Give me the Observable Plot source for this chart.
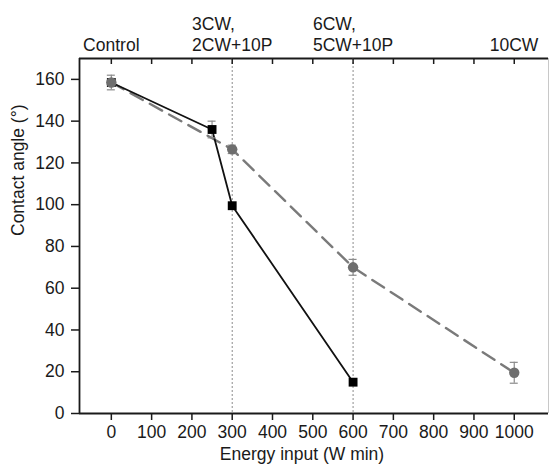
<!DOCTYPE html>
<html><head><meta charset="utf-8">
<script src="https://cdn.jsdelivr.net/npm/d3@7"></script>
<script src="https://cdn.jsdelivr.net/npm/@observablehq/plot@0.6"></script>
<style>html,body{margin:0;padding:0;background:#fff} svg{display:block}</style>
</head><body><div id="chart"></div>
<script>
// ---- data ----
const xTicks = [0, 100, 200, 300, 400, 500, 600, 700, 800, 900, 1000];
const yTicks = [0, 20, 40, 60, 80, 100, 120, 140, 160];
const topTickX = [0, 300, 600, 1000];
const topTickLabels = ["Control", "3CW,\n2CW+10P", "6CW,\n5CW+10P", "10CW"];
const refLinesX = [300, 600];

const s1Energy = [0, 250, 300, 600];
const s1Angle  = [158.5, 136, 99.5, 15];
const s1Err    = [0, 4, 0, 0];

const s2Energy = [0, 300, 600, 1000];
const s2Angle  = [158.5, 126.5, 70, 19.5];
const s2Err    = [3.5, 2, 3.8, 5];

const xDomain = [-79, 1085];
const yDomain = [0, 170];

const xLabel = "Energy input (W min)";
const yLabel = "Contact angle (°)";

// ---- build ----
const s1 = s1Energy.map((x, i) => ({x, y: s1Angle[i], e: s1Err[i]}));
const s2 = s2Energy.map((x, i) => ({x, y: s2Angle[i], e: s2Err[i]}));
const errs = [...s1, ...s2].filter(d => d.e > 0);
const topRows = topTickX.map((x, i) => ({x, label: topTickLabels[i]}));

const ink = "#1a1a1a";
const errColor = "#8a8a8a";
const FS = 17.5;

const chart = Plot.plot({
  width: 549,
  height: 464,
  marginLeft: 79,
  marginRight: 1,
  marginTop: 58,
  marginBottom: 51,
  x: {domain: xDomain},
  y: {domain: yDomain},
  style: {fontFamily: "'Liberation Sans', Arial, sans-serif", fontSize: FS + "px", color: ink, background: "#fff"},
  marks: [
    // frame
    Plot.ruleX([xDomain[1]], {stroke: "#c8c8c8", strokeWidth: 1}),
    Plot.ruleX([xDomain[0]], {stroke: ink, strokeWidth: 1.8}),
    Plot.ruleY([yDomain[0]], {stroke: ink, strokeWidth: 1.8}),
    Plot.ruleY([yDomain[1]], {stroke: ink, strokeWidth: 1.8}),
    // reference dotted lines
    Plot.ruleX(refLinesX, {stroke: "#8c8c8c", strokeWidth: 1, strokeDasharray: "2,2"}),
    // axes
    Plot.axisY({ticks: yTicks, tickSize: 8, tickPadding: 7, strokeWidth: 1.5, fontSize: FS, label: null}),
    Plot.axisX({anchor: "bottom", ticks: xTicks, tickFormat: d => String(d), tickSize: 7, tickPadding: 5, strokeWidth: 1.5, fontSize: FS, label: null}),
    // top inward ticks
    Plot.ruleX(xTicks, {x: d => d, y1: yDomain[1], y2: yDomain[1], insetBottom: -6, stroke: ink, strokeWidth: 1.5}),
    // top category labels
    Plot.text(topRows, {x: "x", text: "label", frameAnchor: "top", lineAnchor: "bottom", textAnchor: "start", dy: -8, lineHeight: 1.16, fontSize: FS, fill: ink}),
    // lines
    Plot.line(s2, {x: "x", y: "y", stroke: "#7a7a7a", strokeWidth: 2.4, strokeDasharray: "14,8"}),
    Plot.line(s1, {x: "x", y: "y", stroke: "#111", strokeWidth: 1.8}),
    // error bars
    Plot.ruleX(errs, {x: "x", y1: d => d.y - d.e, y2: d => d.y + d.e, stroke: errColor, strokeWidth: 1.2}),
    Plot.ruleY(errs, {y: d => d.y - d.e, x1: "x", x2: "x", insetLeft: -4, insetRight: -4, stroke: errColor, strokeWidth: 1.2}),
    Plot.ruleY(errs, {y: d => d.y + d.e, x1: "x", x2: "x", insetLeft: -4, insetRight: -4, stroke: errColor, strokeWidth: 1.2}),
    // markers
    Plot.dot(s1, {x: "x", y: "y", symbol: "square", r: 5, fill: "#000", stroke: "none"}),
    Plot.dot(s2, {x: "x", y: "y", symbol: "circle", r: 5.2, fill: "#6e6e6e", stroke: "none"}),
    // axis labels
    Plot.text([yLabel], {frameAnchor: "left", rotate: -90, dx: -61, fontSize: FS, fill: ink}),
    Plot.text([xLabel], {frameAnchor: "bottom", lineAnchor: "top", dy: 34, dx: -12, fontSize: FS, fill: ink})
  ]
});

document.getElementById("chart").append(chart);

// center each top label block while keeping its lines left-aligned
const flat = topTickLabels.map(s => s.replace(/\n/g, ""));
chart.querySelectorAll("text").forEach(t => {
  if (!flat.includes(t.textContent)) return;
  if (t.closest("[aria-label*='axis']")) return;
  const w = t.getBBox().width;
  const tr = t.getAttribute("transform");
  if (tr) t.setAttribute("transform", tr + ` translate(${-w / 2},0)`);
  else t.setAttribute("x", (+t.getAttribute("x") || 0) - w / 2);
});
</script>
</body></html>
